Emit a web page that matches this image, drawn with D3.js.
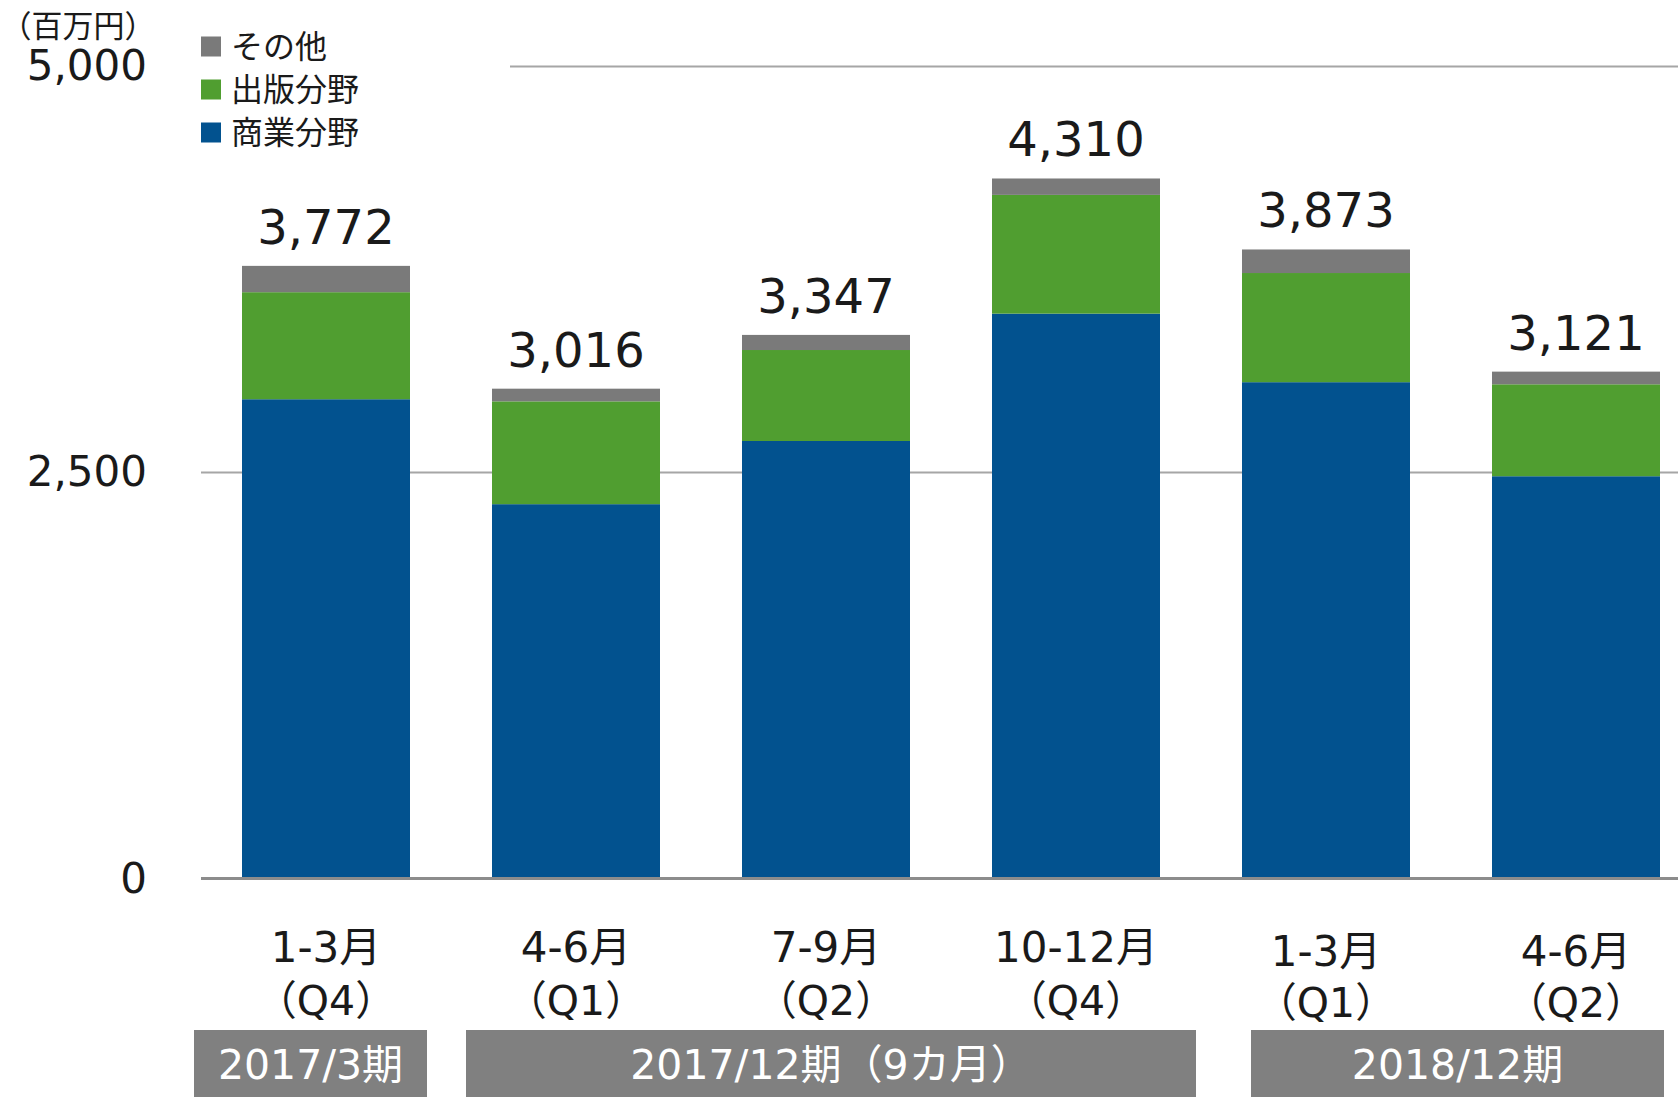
<html>
    <head>
        <meta charset="utf-8">
        <title>Segment sales by quarter</title>
        <script src="https://cdn.jsdelivr.net/npm/d3@7"></script>
        <style>
            body { margin: 0; background: #fff; }
            text { font-family: "DejaVu Sans", "Noto Sans CJK JP", sans-serif; fill: #1a1a1a; }
            .jp { font-family: "Noto Sans CJK JP", "DejaVu Sans", sans-serif; }
        </style>
    </head>
    <body>
        <svg width="1678" height="1097"></svg>
        <script>

            // Data (百万円):
            var months = ["1-3月", "4-6月", "7-9月", "10-12月", "1-3月", "4-6月"];
            var quarters = ["（Q4）", "（Q1）", "（Q2）", "（Q4）", "（Q1）", "（Q2）"];
            var commercial = [2951, 2305, 2694, 3478, 3056, 2477];  // 商業分野
            var publishing = [659, 633, 560, 731, 672, 566];        // 出版分野
            var other = [162, 78, 93, 101, 145, 78];                // その他
            var seriesNames = ["商業分野", "出版分野", "その他"];
            var periods = ["2017/3期", "2017/12期（9カ月）", "2018/12期"];
            var periodSpans = [[0, 0], [1, 3], [4, 5]];
            var yTicks = [0, 2500, 5000];

            var colors = ["#02528f", "#509e30", "#7a7a7a"];

            var svg = d3.select("svg"),
                width = +svg.attr("width"),
                height = +svg.attr("height");

            var keys = months.map(function(m, i) { return m + quarters[i]; });
            var rows = keys.map(function(k, i) {
                return { key: k, i: i, "商業分野": commercial[i], "出版分野": publishing[i], "その他": other[i] };
            });

            var x = d3.scaleBand()
                .domain(keys)
                .range([201, 1701])
                .paddingInner(0.328)
                .paddingOuter(0.164);

            var y = d3.scaleLinear()
                .domain([0, 5000])
                .range([878.6, 66.4]);

            // Gridlines (the top one is partly hidden behind the legend)
            svg.append("g").selectAll("line")
                .data(yTicks.filter(function(d) { return d > 0; }))
                .enter().append("line")
                    .attr("x1", 201).attr("x2", width)
                    .attr("y1", function(d) { return y(d); })
                    .attr("y2", function(d) { return y(d); })
                    .attr("stroke", "#a6a6a6")
                    .attr("stroke-width", 2);

            // Stacked bars
            var stack = d3.stack().keys(seriesNames)(rows);
            svg.append("g").selectAll("g")
                .data(stack)
                .enter().append("g")
                    .attr("fill", function(d, i) { return colors[i]; })
                .selectAll("rect")
                .data(function(d) { return d; })
                .enter().append("rect")
                    .attr("x", function(d) { return x(d.data.key); })
                    .attr("width", x.bandwidth())
                    .attr("y", function(d) { return y(d[1]); })
                    .attr("height", function(d) { return y(d[0]) - y(d[1]); });

            // Zero line
            svg.append("line")
                .attr("x1", 201).attr("x2", width)
                .attr("y1", y(0)).attr("y2", y(0))
                .attr("stroke", "#8c8c8c")
                .attr("stroke-width", 3);

            // Totals above bars
            svg.append("g").selectAll("text")
                .data(rows)
                .enter().append("text")
                    .attr("x", function(d) { return x(d.key) + x.bandwidth() / 2; })
                    .attr("y", function(d) { return y(commercial[d.i] + publishing[d.i] + other[d.i]) - 22; })
                    .attr("text-anchor", "middle")
                    .style("font-size", "48px")
                    .text(function(d) { return d3.format(",")(commercial[d.i] + publishing[d.i] + other[d.i]); });

            // Y axis labels
            var yAxis = svg.append("g")
                .attr("transform", "translate(147,0)")
                .call(d3.axisLeft(y).tickValues(yTicks).tickFormat(d3.format(",")).tickSize(0).tickPadding(0));
            yAxis.select(".domain").remove();
            yAxis.selectAll("text")
                .attr("fill", "#1a1a1a")
                .style("font-family", "'DejaVu Sans', sans-serif")
                .style("font-size", "42px");

            // Unit
            svg.append("text")
                .attr("class", "jp")
                .attr("x", 78).attr("y", 26)
                .attr("dy", "0.35em")
                .attr("text-anchor", "middle")
                .style("font-size", "31px")
                .text("（百万円）");

            // Legend (white box covers the gridline)
            var legend = svg.append("g");
            legend.append("rect")
                .attr("x", 190).attr("y", 20).attr("width", 320).attr("height", 130)
                .attr("fill", "#fff");
            var legendItems = seriesNames.slice().reverse();
            var li = legend.selectAll("g.item")
                .data(legendItems)
                .enter().append("g")
                    .attr("class", "item")
                    .attr("transform", function(d, i) { return "translate(201," + (46.5 + i * 43) + ")"; });
            li.append("rect")
                .attr("x", 0).attr("y", -10).attr("width", 20).attr("height", 20)
                .attr("fill", function(d) { return colors[seriesNames.indexOf(d)]; });
            li.append("text")
                .attr("class", "jp")
                .attr("x", 30)
                .attr("dy", "0.36em")
                .style("font-size", "32px")
                .text(function(d) { return d; });

            // Category labels
            var cat = svg.append("g").selectAll("g")
                .data(rows)
                .enter().append("g")
                    .attr("transform", function(d) { return "translate(" + (x(d.key) + x.bandwidth() / 2) + ",0)"; });
            cat.append("text")
                .attr("y", function(d) { return d.i > 3 ? 966 : 962; })
                .attr("text-anchor", "middle")
                .style("font-size", "42px")
                .text(function(d) { return months[d.i]; });
            cat.append("text")
                .attr("y", function(d) { return d.i > 3 ? 1017 : 1015; })
                .attr("text-anchor", "middle")
                .style("font-size", "41px")
                .text(function(d) { return quarters[d.i]; });

            // Fiscal period boxes; edges hand-fitted around the bars they cover
            var boxEdges = [[-48, 17], [-26, 36], [9, 4]];
            var pb = svg.append("g").selectAll("g")
                .data(periods)
                .enter().append("g");
            pb.append("rect")
                .attr("x", function(d, i) { return x(keys[periodSpans[i][0]]) + boxEdges[i][0]; })
                .attr("width", function(d, i) {
                    return x(keys[periodSpans[i][1]]) + x.bandwidth() + boxEdges[i][1] - x(keys[periodSpans[i][0]]) - boxEdges[i][0];
                })
                .attr("y", 1030).attr("height", 67)
                .attr("fill", "#808080");
            pb.append("text")
                .attr("x", function(d, i) {
                    var a = x(keys[periodSpans[i][0]]) + boxEdges[i][0],
                        b = x(keys[periodSpans[i][1]]) + x.bandwidth() + boxEdges[i][1];
                    return (a + b) / 2;
                })
                .attr("y", 1064)
                .attr("dy", "0.36em")
                .attr("text-anchor", "middle")
                .style("font-size", "41px")
                .style("fill", "#fff")
                .text(function(d) { return d; });

        </script>
    </body>
</html>
